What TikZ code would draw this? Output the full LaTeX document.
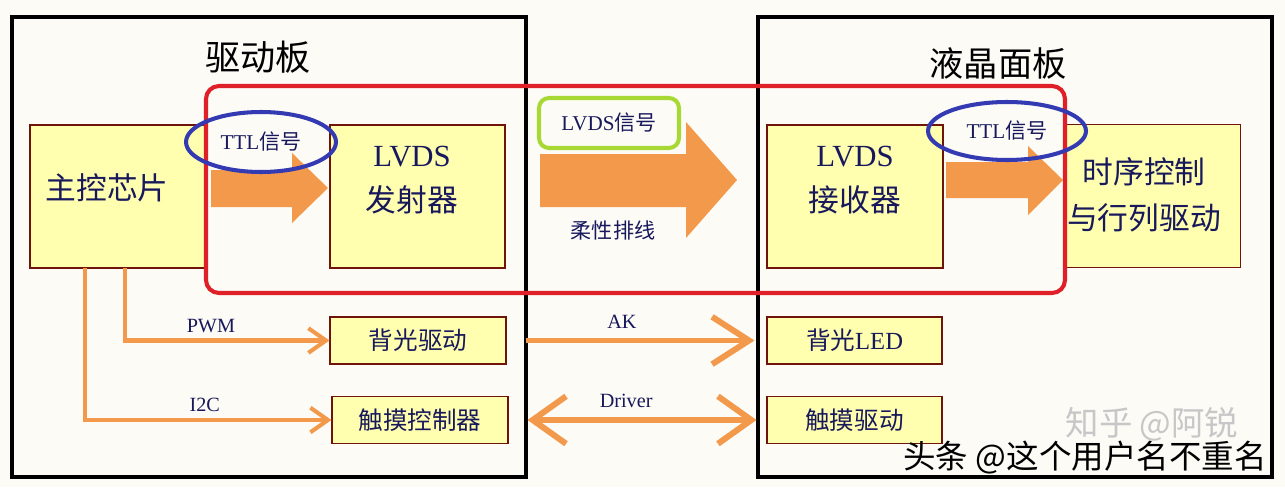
\documentclass[tikz,border=0pt]{standalone}
\usepackage{fontspec}
\setmainfont{Noto Sans CJK SC}
\newfontfamily\tms{Liberation Serif}
\usepackage{tikz}
\usetikzlibrary{positioning, arrows.meta, calc, shapes.geometric}
\definecolor{cBg}{RGB}{253,251,246}
\definecolor{cBox}{RGB}{255,255,175}
\definecolor{cEdge}{RGB}{110,20,10}
\definecolor{cOr}{RGB}{242,153,76}
\definecolor{cRed}{RGB}{224,32,40}
\definecolor{cBlue}{RGB}{52,58,178}
\definecolor{cGrn}{RGB}{168,216,52}
\definecolor{cTxt}{RGB}{24,24,92}

\tikzset{
  blk/.style={draw=cEdge, fill=cBox, line width=0.6pt, inner sep=0pt},
  big/.style={text=cTxt, font=\fontsize{17.5}{26}\selectfont, align=center},
  mid/.style={text=cTxt, font=\fontsize{14}{16}\selectfont},
  small/.style={text=cTxt, font=\fontsize{12}{14}\selectfont},
  sig/.style={text=cTxt, font=\tms\fontsize{11.5}{13}\selectfont},
  wire/.style={draw=cOr, line width=2.3pt, -{Straight Barb[length=10pt,width=14pt]}},
  bus/.style={draw=cOr, line width=3.4pt},
  oval/.style={ellipse, draw=cBlue, line width=2.3pt, inner sep=0pt},
}

\begin{document}
\begin{tikzpicture}[x=0.02cm, y=-0.02cm, >=latex]

    % Page and background
    \fill[cBg] (0,0) rectangle (1285,487);
    \useasboundingbox (0,0) rectangle (1285,487);

    % --- Boards ---
    \draw[line width=2.5pt] (12,17) rectangle (526,477);
    \draw[line width=2.5pt] (758,17) rectangle (1272,477);
    \node[font=\fontsize{20}{22}\selectfont] (drvtitle) at (258,57) {驱动板};
    \node[font=\fontsize{19.5}{22}\selectfont] (lcdtitle) at (998,63) {液晶面板};

    % --- Main signal chain ---
    \node[blk, minimum width=3.5cm, minimum height=2.86cm] (chip) at (117.5,196.5) {};
    \node[blk, minimum width=3.5cm, minimum height=2.86cm] (tx) at (417.5,196.5) {};
    \node[blk, minimum width=3.52cm, minimum height=2.86cm] (rx) at (855,196.5) {};
    \node[blk, minimum width=3.54cm, minimum height=2.86cm] (tcon) at (1152,196) {};

    \node[big] (chiptxt) at (107,188) {主控芯片};
    \node[big] (txtxt) at (412,180) {{\tms LVDS}\\发射器};
    \node[big] (rxtxt) at (855,180) {{\tms LVDS}\\接收器};
    \node[big] (tcontxt) at (1144,195) {时序控制\\与行列驱动};

    % Block arrows
    % TTL: chip -> tx
    \fill[cOr] (211,170) -- (292,170) -- (292,153) -- (328,188) -- (292,223) -- (292,207) -- (211,207) -- cycle;
    % LVDS over the flex cable: tx -> rx
    \fill[cOr] (540,154) -- (686,154) -- (686,122) -- (737,180) -- (686,238) -- (686,207) -- (540,207) -- cycle;
    % TTL: rx -> tcon
    \fill[cOr] (946,162) -- (1028,162) -- (1028,146) -- (1063,180) -- (1028,215) -- (1028,198) -- (946,198) -- cycle;

    % LVDS link frame
    \draw[cRed, line width=2.3pt, rounded corners=0.26cm] (206,86) rectangle (1065,293);

    % Signal tags
    \node[oval, small, minimum width=3cm, minimum height=1.2cm] (ttl1) at (261,142) {{\tms TTL}信号};
    \node[oval, small, minimum width=3.16cm, minimum height=1.16cm] (ttl2) at (1007,131) {{\tms TTL}信号};
    \node[draw=cGrn, line width=2.3pt, rounded corners=0.2cm, minimum width=2.8cm, minimum height=1cm, small] (lvdssig) at (609,123) {{\tms LVDS}信号};
    \node[small] (fpc) at (613,230) {柔性排线};

    % --- Backlight and touch ---
    \node[blk, mid, minimum width=3.52cm, minimum height=0.94cm] (bldrv) at (418,340.5) {背光驱动};
    \node[blk, mid, minimum width=3.52cm, minimum height=0.93cm] (tpctl) at (420,420) {触摸控制器};
    \node[blk, mid, minimum width=3.5cm, minimum height=0.94cm] (bled) at (854.5,340.5) {背光{\tms LED}};
    \node[blk, mid, minimum width=3.5cm, minimum height=0.93cm] (tpdrv) at (854.5,420) {触摸驱动};

    \coordinate (pwm0) at (125,268);
    \coordinate (i2c0) at (85,268);
    \draw[wire] (pwm0) |- (bldrv.west) node[sig, pos=0.71, above] (pwmlbl) {PWM};
    \draw[wire] (i2c0) |- (tpctl.west) node[sig, pos=0.743, above] (i2clbl) {I2C};

    \draw[bus, -{Straight Barb[length=21pt,width=27pt]}, shorten <=0.38cm, shorten >=0.24cm]
        (bldrv.east) -- (bled.west) node[sig, pos=0.444, above=2pt] (aklbl) {AK};
    \draw[bus, {Straight Barb[length=19pt,width=27pt]}-{Straight Barb[length=19pt,width=27pt]}, shorten <=0.38cm, shorten >=0.2cm]
        (tpctl.east) -- (tpdrv.west) node[sig, pos=0.456, above=2pt] (drvlbl) {Driver};

    % Watermarks
    \node[font=\fontsize{19}{20}\selectfont, text=black!22, inner sep=0pt] (zhihu) at (1152,424) {知乎 @阿锐};
    \node[font=\fontsize{18.5}{20}\selectfont, text=black, inner sep=0pt] (toutiao) at (1085,458) {头条 @这个用户名不重名};

\end{tikzpicture}
\end{document}
